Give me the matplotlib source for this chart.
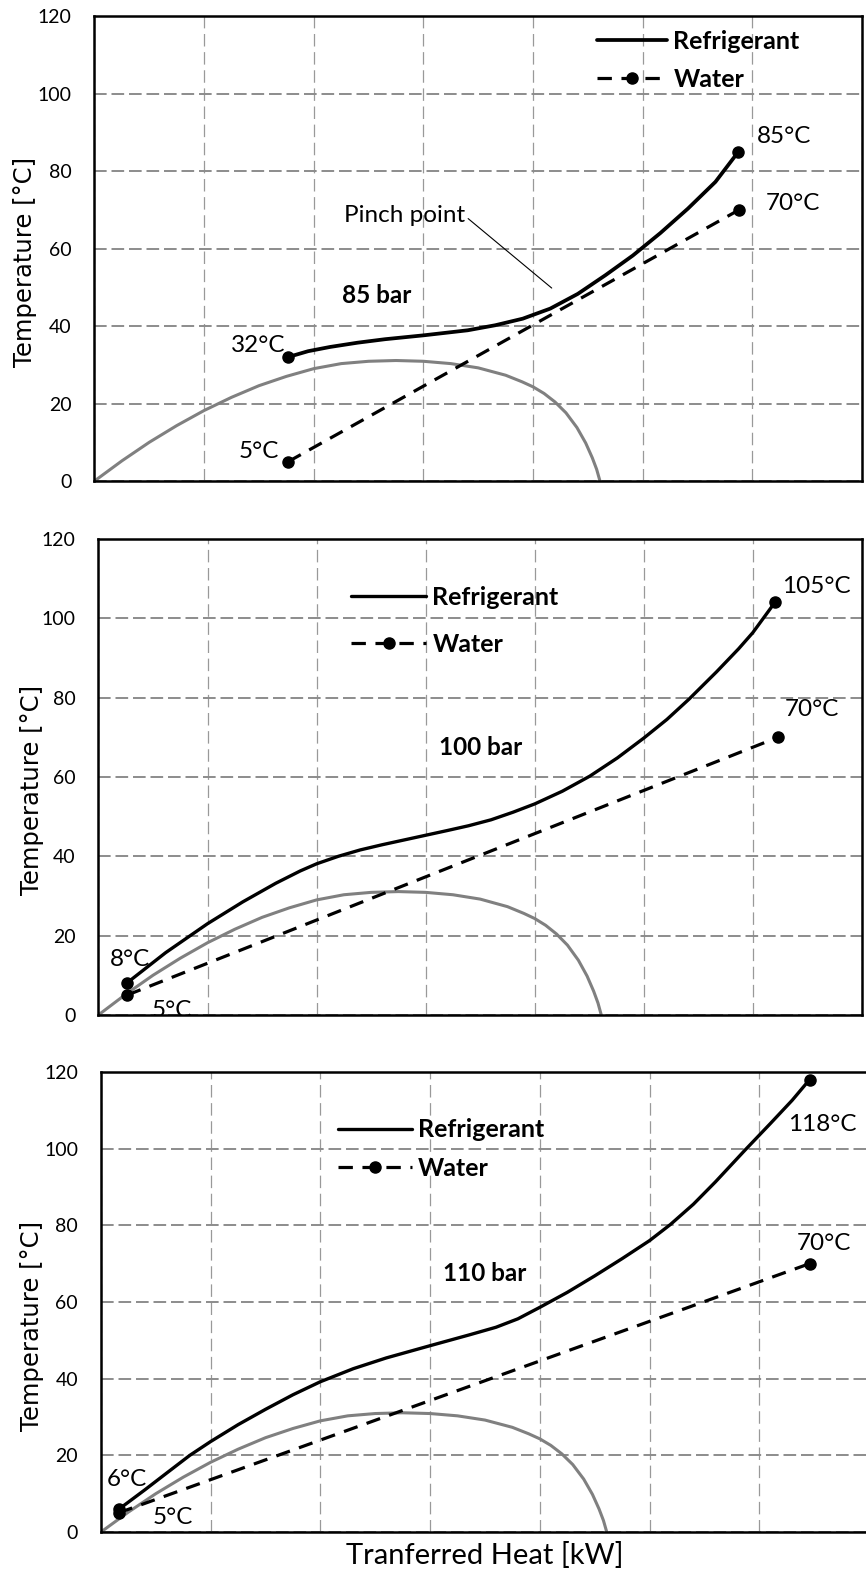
import matplotlib
matplotlib.use("Agg")
import matplotlib.pyplot as plt

plt.rcParams['font.family'] = ['Lato', 'DejaVu Sans']

# assen
temp_ticks = [0, 20, 40, 60, 80, 100, 120]
heat_grid = [0, 1, 2, 3, 4, 5, 6, 7]

# CO2 verzadigingskoepel (zelfde in alle panelen)
dome_q = [0, 0.25, 0.5, 0.75, 1.0, 1.25, 1.5, 1.75, 2.0, 2.25, 2.5, 2.75,
          3.0, 3.25, 3.5, 3.75, 3.9, 4.0, 4.1, 4.2, 4.3, 4.4, 4.48, 4.54, 4.58, 4.61]
dome_t = [0, 5.2, 10.0, 14.3, 18.2, 21.6, 24.6, 27.0, 29.0, 30.3, 30.9, 31.1,
          30.9, 30.3, 29.2, 27.3, 25.6, 24.3, 22.6, 20.4, 17.6, 13.8, 9.8, 6.0, 3.0, 0]

# 85 bar
ref85_q = [1.767, 1.948, 2.149, 2.400, 2.651, 3.002, 3.404, 3.655, 3.906,
           4.157, 4.408, 4.659, 4.910, 5.161, 5.412, 5.663, 5.873]
ref85_t = [32.0, 33.5, 34.6, 35.7, 36.6, 37.6, 38.9, 40.2, 41.9,
           44.5, 48.3, 53.1, 58.2, 64.0, 70.3, 77.2, 85.0]
wat85_q = [1.767, 5.88]
wat85_t = [5, 70]

# 100 bar
ref100_q = [0.263, 0.616, 1.0, 1.323, 1.626, 1.85, 2.0, 2.2, 2.4, 2.6, 2.8, 3.0,
            3.2, 3.394, 3.6, 3.8, 4.0, 4.253, 4.505, 4.758, 5.0, 5.212, 5.414,
            5.667, 5.869, 6.0, 6.202]
ref100_t = [8.1, 15.7, 23.0, 28.5, 33.2, 36.3, 38.1, 40.0, 41.6, 42.9, 44.1, 45.3,
            46.5, 47.7, 49.2, 51.1, 53.2, 56.4, 60.2, 64.8, 69.8, 74.5, 79.6,
            86.5, 92.3, 96.4, 104.0]
wat100_q = [0.263, 6.23]
wat100_t = [5, 70]

# 110 bar
ref110_q = [0.161, 0.4, 0.6, 0.81, 1.0, 1.25, 1.5, 1.75, 2.0, 2.3, 2.6, 3.0,
            3.355, 3.6, 3.8, 4.0, 4.25, 4.5, 4.75, 5.0, 5.19, 5.4, 5.6, 5.87,
            6.1, 6.3, 6.459]
ref110_t = [5.9, 11.0, 15.4, 20.0, 23.6, 28.0, 32.0, 35.8, 39.2, 42.6, 45.4, 48.6,
            51.4, 53.4, 55.6, 58.6, 62.5, 66.8, 71.3, 76.0, 80.2, 85.5, 91.3, 99.6,
            106.5, 112.6, 118.0]
wat110_q = [0.161, 6.459]
wat110_t = [5, 70]

panels = [
    dict(rect=[0.1091, 0.6946, 0.8863, 0.2952], ref=(ref85_q, ref85_t), wat=(wat85_q, wat85_t),
         ref_lw=2.7, title="85 bar", title_xy=(2.57, 48),
         labels=[("85°C", 6.04, 88.8, 'left'), ("70°C", 6.12, 71.7, 'left'),
                 ("32°C", 1.74, 35.0, 'right'), ("5°C", 1.68, 7.7, 'right')],
         leg=(0.655, 0.904, 2.8, 0.6), ylab=(-0.0899, 0.471)),
    dict(rect=[0.1137, 0.3556, 0.8816, 0.3022], ref=(ref100_q, ref100_t), wat=(wat100_q, wat100_t),
         ref_lw=2.4, title="100 bar", title_xy=(3.5, 67.3),
         labels=[("105°C", 6.27, 108.1, 'left'), ("70°C", 6.29, 76.9, 'left'),
                 ("8°C", 0.29, 13.9, 'center'), ("5°C", 0.49, 1.0, 'left')],
         leg=(0.331, 0.828, 3.0, 0.95), ylab=(-0.0871, 0.473)),
    dict(rect=[0.1166, 0.0273, 0.8868, 0.2921], ref=(ref110_q, ref110_t), wat=(wat110_q, wat110_t),
         ref_lw=2.4, title="110 bar", title_xy=(3.5, 67.5),
         labels=[("118°C", 6.26, 106.2, 'left'), ("70°C", 6.34, 75.3, 'left'),
                 ("6°C", 0.24, 13.8, 'center'), ("5°C", 0.47, 3.9, 'left')],
         leg=(0.309, 0.832, 2.95, 0.62), ylab=(-0.0898, 0.448)),
]

fig = plt.figure(figsize=(8.66, 15.75), dpi=100)

for i, p in enumerate(panels):
    ax = fig.add_axes(p['rect'])
    ax.set_xlim(0, 7)
    ax.set_ylim(0, 120)
    ax.set_xticks(heat_grid)
    ax.set_yticks(temp_ticks)
    ax.tick_params(axis='x', length=0, labelbottom=False)
    ax.tick_params(axis='y', length=0, pad=16.5, labelsize=14)
    ax.yaxis.grid(True, color='#8c8c8c', lw=1.4, linestyle=(0, (6.5, 2.5)))
    ax.xaxis.grid(True, color='#999999', lw=0.9, linestyle=(0, (10, 4.5)))
    ax.set_axisbelow(True)
    for s in ax.spines.values():
        s.set_linewidth(1.8)
        s.set_color('black')

    # koepel
    ax.plot(dome_q, dome_t, color='#808080', lw=2.2, zorder=2, solid_joinstyle='round')

    rq, rt = p['ref']
    wq, wt = p['wat']
    ax.plot(rq, rt, color='black', lw=p['ref_lw'], label='Refrigerant', zorder=3,
            solid_capstyle='round', solid_joinstyle='round')
    ax.plot(wq, wt, color='black', lw=2.3, linestyle=(0, (4.5, 3)), marker='o',
            markersize=8, label='Water', zorder=3)
    ax.plot([rq[0], rq[-1]], [rt[0], rt[-1]], 'o', color='black', markersize=8, zorder=4)

    for txt, x, y, ha in p['labels']:
        ax.text(x, y, txt, ha=ha, va='center', fontsize=17.5, clip_on=True)

    ax.text(p['title_xy'][0], p['title_xy'][1], p['title'], ha='center', va='center',
            fontsize=17.5, fontweight='bold')

    lx, ly, hl, ls = p['leg']
    ax.legend(loc='center left', bbox_to_anchor=(lx, ly), frameon=False, borderpad=0,
              borderaxespad=0, handlelength=hl, handletextpad=0.25, labelspacing=ls,
              numpoints=1, prop={'family': 'Lato', 'weight': 'bold', 'size': 18})

    ax.set_ylabel('Temperature [°C]', family='DejaVu Sans', fontsize=17.5, va='center')
    ax.yaxis.set_label_coords(*p['ylab'])

    if i == 0:
        ax.annotate('Pinch point', xy=(4.17, 49.8), xytext=(2.83, 68.6), ha='center',
                    va='center', fontsize=17.5,
                    arrowprops=dict(arrowstyle='-', lw=0.8, color='black',
                                    shrinkA=0, shrinkB=0, relpos=(1.0, 0.45)))
    if i == 2:
        ax.set_xlabel('Tranferred Heat [kW]', fontsize=21, labelpad=7)

fig.savefig('out.png', dpi=100)
